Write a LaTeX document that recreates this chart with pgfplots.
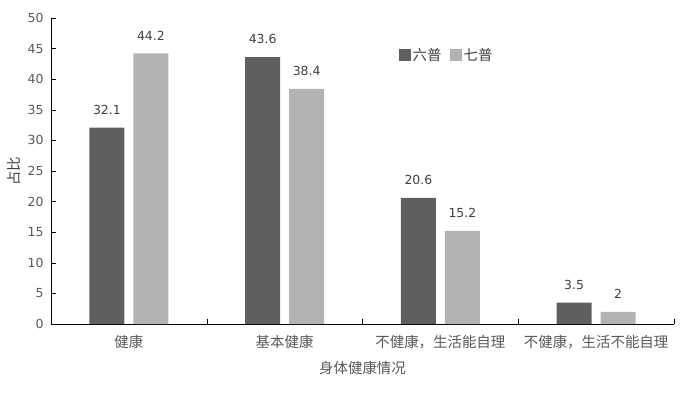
\documentclass[border=0pt]{standalone}
\usepackage{fontspec}
\setmainfont{DejaVu Sans}
\newfontfamily\cjk{Noto Sans CJK SC}
\usepackage{pgfplots}
\pgfplotsset{compat=1.18}
\definecolor{dark}{HTML}{5F5F5F}
\definecolor{light}{HTML}{B3B3B3}
\definecolor{txt}{HTML}{404040}
\definecolor{tick}{HTML}{595959}
\pgfplotsset{
  every non boxed x axis/.append style={xtick align=inside},
  every non boxed y axis/.append style={ytick align=inside},
}
\begin{document}
\begin{tikzpicture}[x=1bp,y=1bp]
\useasboundingbox (-51,-80) rectangle (642,324);
\begin{axis}[
  at={(0,0)}, anchor=south west,
  scale only axis, width=623bp, height=306bp,
  /pgf/number format/assume math mode=true,
  ybar=9bp, bar width=35bp,
  ymin=0, ymax=50, ytick={0,5,...,50},
  xmin=-0.5, xmax=3.5,
  xtick={0.5,1.5,2.5,3.5},
  xticklabels={},
  extra x ticks={0,1,2,3},
  extra x tick labels={{\cjk 健康},{\cjk 基本健康},{\cjk 不健康，生活能自理},{\cjk 不健康，生活不能自理}},
  extra x tick style={major tick length=0pt, xticklabel style={yshift=-8bp}},
  axis x line*=bottom, axis y line*=left,
  axis line style={-, black, thin},
  tick style={black, thin},
  tick align=inside,
  major tick length=5bp,
  yticklabel style={font=\fontsize{12.5}{14}\selectfont, text=tick, xshift=-4bp},
  xticklabel style={font=\fontsize{14.5}{16}\selectfont, text=tick},
  xlabel={\cjk 身体健康情况},
  ylabel={\cjk 占比},
  xlabel style={font=\fontsize{14.5}{16}\selectfont, text=tick, at={(axis description cs:0.5,-0.1438)}, anchor=center},
  ylabel style={font=\fontsize{14.5}{16}\selectfont, text=txt, at={(axis description cs:-0.0594,0.5)}, anchor=center},
  nodes near coords,
  every node near coord/.append style={font=\fontsize{12.5}{14}\selectfont, text=txt, inner sep=0pt, yshift=13bp},
  legend style={draw=none, fill=none, at={(0.553,0.879)}, anchor=west, legend columns=2,
    font=\fontsize{14.5}{16}\selectfont, text=txt,
    /tikz/every even column/.append style={column sep=6bp}},
  legend image code/.code={\fill[#1] (0bp,-6bp) rectangle (12bp,6bp);},
]
\addplot[fill=dark, draw=none] coordinates {(0,32.1) (1,43.6) (2,20.6) (3,3.5)};
\addplot[fill=light, draw=none] coordinates {(0,44.2) (1,38.4) (2,15.2) (3,2)};
\legend{{\cjk 六普},{\cjk 七普}}
\end{axis}
\end{tikzpicture}
\end{document}
